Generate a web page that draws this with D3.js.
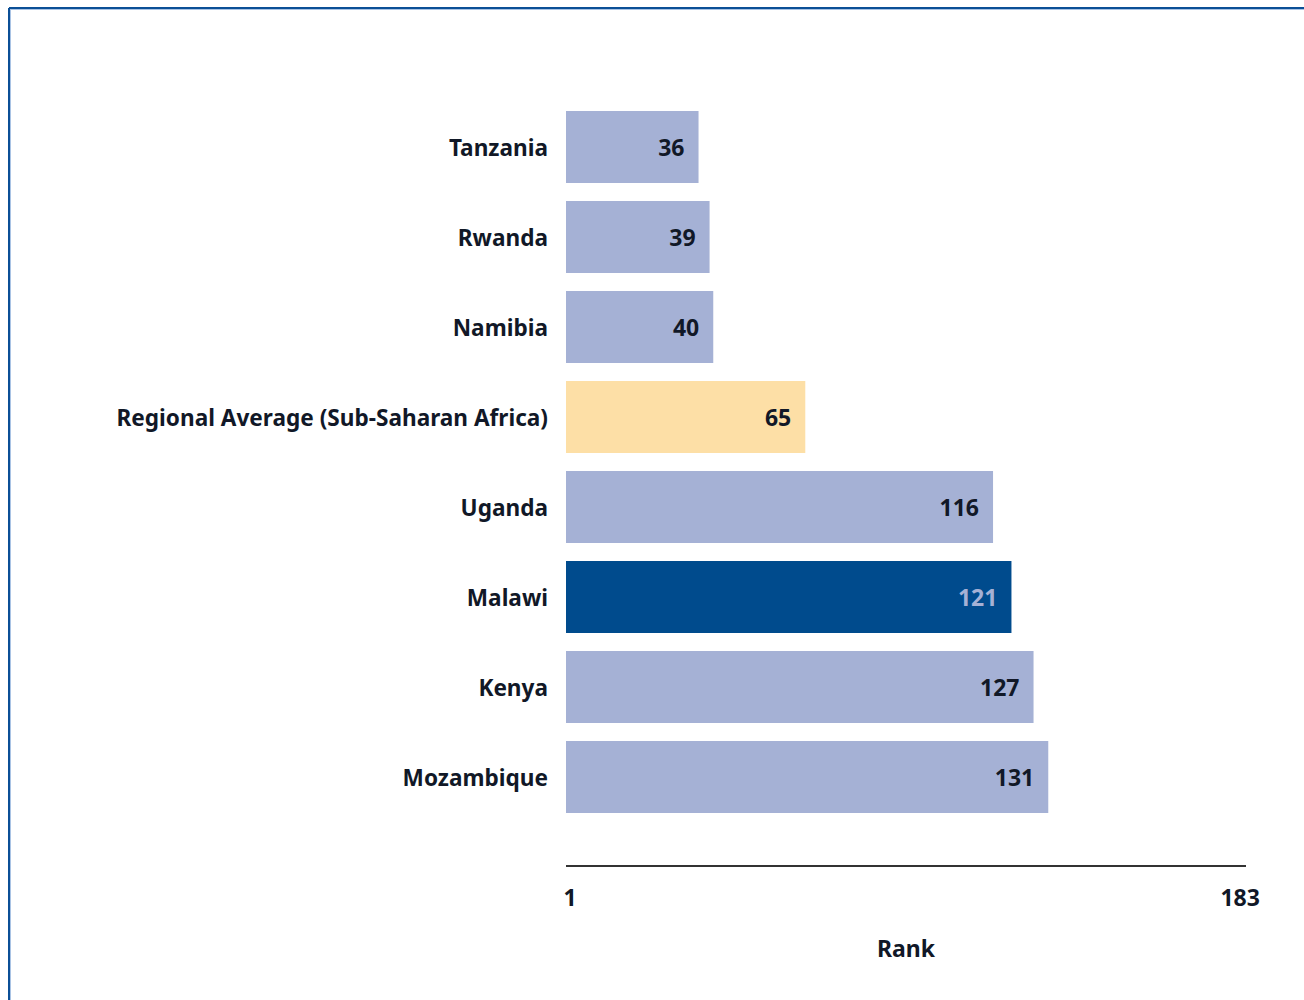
<!DOCTYPE html>
<html>
<head>
<meta charset="utf-8">
<script src="https://cdn.jsdelivr.net/npm/d3@7"></script>
<style>
  html, body { margin: 0; padding: 0; background: #fff; }
  svg { display: block; }
  text { font-family: "Noto Sans", "DejaVu Sans", sans-serif; font-weight: 700; fill: #111827; }
</style>
</head>
<body>
<script>
// Ranking data
const countries = ["Tanzania", "Rwanda", "Namibia", "Regional Average (Sub-Saharan Africa)", "Uganda", "Malawi", "Kenya", "Mozambique"];
const ranks = [36, 39, 40, 65, 116, 121, 127, 131];
const highlight = ["normal", "normal", "normal", "average", "normal", "focus", "normal", "normal"];
const axisTicks = [1, 183];
const axisTitle = "Rank";

const W = 1304, H = 1000;
const svg = d3.select("body").append("svg").attr("width", W).attr("height", H);

// Frame: dark blue rule with a light inner line on top and left
svg.append("rect").attr("x", 0).attr("y", 0).attr("width", W).attr("height", H).attr("fill", "#fff");
svg.append("line").attr("x1", 9).attr("x2", W).attr("y1", 8).attr("y2", 8).attr("stroke", "#0b4f96").attr("stroke-width", 2);
svg.append("line").attr("x1", 9).attr("x2", 9).attr("y1", 8).attr("y2", H).attr("stroke", "#0b4f96").attr("stroke-width", 2);
svg.append("line").attr("x1", 10).attr("x2", W).attr("y1", 9.5).attr("y2", 9.5).attr("stroke", "#a9c3e4").attr("stroke-width", 1);
svg.append("line").attr("x1", 10.5).attr("x2", 10.5).attr("y1", 9).attr("y2", H).attr("stroke", "#a9c3e4").attr("stroke-width", 1);

const x = d3.scaleLinear().domain([0, 183]).range([566, 1239.7]);
const y = d3.scaleBand().domain(countries).range([102, 822]).paddingInner(0.2).paddingOuter(0.1);

const fills = { normal: "#a5b1d5", average: "#fddfa6", focus: "#004b8d" };
const valueColors = { normal: "#111827", average: "#111827", focus: "#a5b1d5" };

const rows = countries.map((c, i) => ({ c, v: ranks[i], k: highlight[i] }));

const g = svg.append("g");
g.selectAll("rect.bar").data(rows).join("rect")
  .attr("class", "bar")
  .attr("x", x(0))
  .attr("y", d => y(d.c))
  .attr("width", d => x(d.v) - x(0))
  .attr("height", y.bandwidth())
  .attr("fill", d => fills[d.k]);

// Value labels inside bar ends
g.selectAll("text.val").data(rows).join("text")
  .attr("class", "val")
  .attr("x", d => x(d.v) - 14)
  .attr("y", d => y(d.c) + y.bandwidth() / 2 + 1)
  .attr("dy", "0.35em")
  .attr("text-anchor", "end")
  .attr("font-size", 23)
  .style("fill", d => valueColors[d.k])
  .text(d => d.v);

// Category labels
g.selectAll("text.cat").data(rows).join("text")
  .attr("class", "cat")
  .attr("x", 548)
  .attr("y", d => y(d.c) + y.bandwidth() / 2 + 1)
  .attr("dy", "0.35em")
  .attr("text-anchor", "end")
  .attr("font-size", 22.6)
  .text(d => d.c);

// Rank axis
const axisY = 866;
const axis = svg.append("g").attr("transform", `translate(0,${axisY})`)
  .call(d3.axisBottom(x).tickValues(axisTicks).tickSize(0).tickPadding(24));
axis.select(".domain").attr("d", `M${x(0)},0H1246`).attr("stroke", "#333").attr("stroke-width", 2);
axis.selectAll(".tick text").attr("font-size", 23).attr("font-family", null).style("fill", "#111827").attr("font-weight", 700);

svg.append("text")
  .attr("x", (x(0) + 1246) / 2)
  .attr("y", 949)
  .attr("dy", "0.35em")
  .attr("text-anchor", "middle")
  .attr("font-size", 23)
  .text(axisTitle);
</script>
</body>
</html>
